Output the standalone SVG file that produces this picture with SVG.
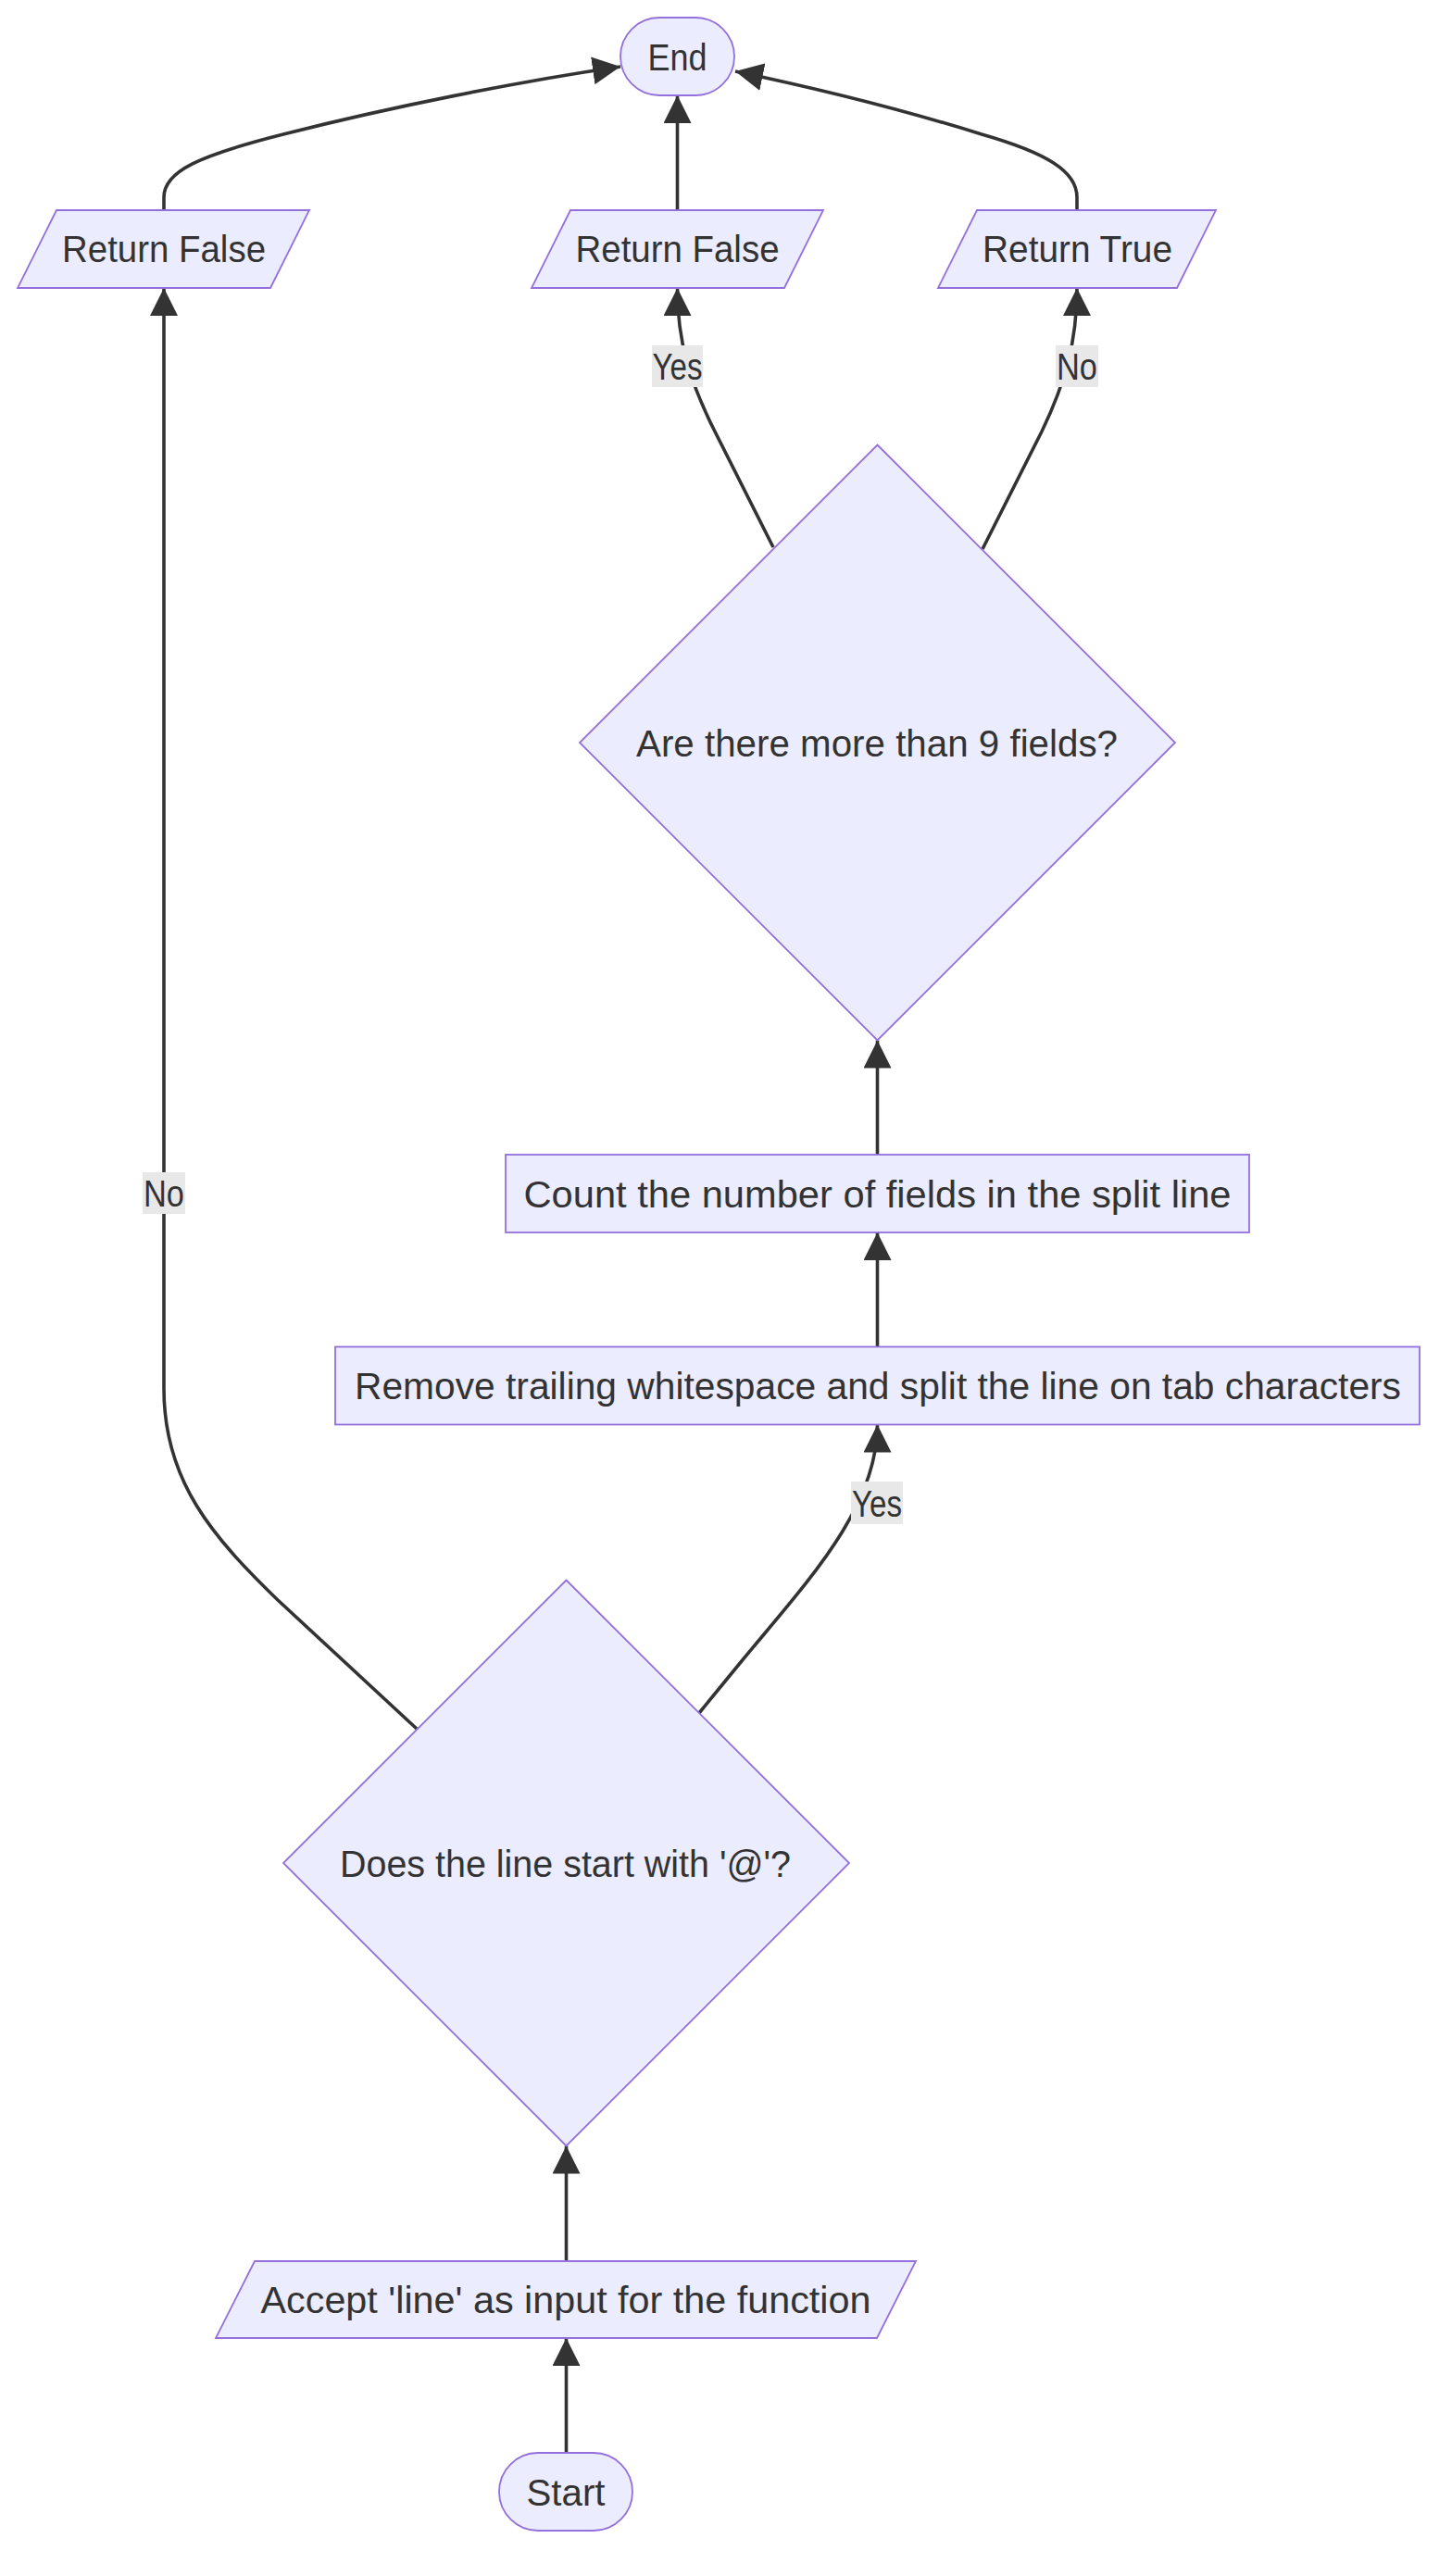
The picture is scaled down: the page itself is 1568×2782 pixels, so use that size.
<svg xmlns="http://www.w3.org/2000/svg" width="1568" height="2782" viewBox="0 0 1568 2782">
<style>
  .node { fill: #ECECFF; stroke: #9370DB; stroke-width: 1.8; }
  .lbl { font-family: "Liberation Sans", Arial, sans-serif; font-size: 40px; fill: #333333; text-anchor: middle; }
  .edge { fill: none; stroke: #333333; stroke-width: 3.6; }
  .elbg { fill: #e8e8e8; }
</style>
<defs>
  <marker id="arrow" viewBox="0 0 10 10" refX="10" refY="5" markerUnits="userSpaceOnUse" markerWidth="30" markerHeight="30" orient="auto">
    <path d="M0,0 L10,5 L0,10 z" fill="#333333"/>
  </marker>
</defs>
<rect width="1568" height="2782" fill="#ffffff"/>

<g id="connectors">
  <path class="edge" marker-end="url(#arrow)" d="M177,227 L177,213 C177,185 215,168 306,145 C420,116 560,88 670,72"/>
  <path class="edge" marker-end="url(#arrow)" d="M731.5,227 L731.5,103"/>
  <path class="edge" marker-end="url(#arrow)" d="M1163,227 L1163,213 C1163,185 1130,165 1060,145 C980,120 880,95 794,77"/>
  <path class="edge" marker-end="url(#arrow)" d="M835,591 L772,466 C745,412 731.5,370 731.5,311"/>
  <path class="edge" marker-end="url(#arrow)" d="M1061,593 L1125,466 C1150,414 1163,370 1163,311"/>
  <path class="edge" marker-end="url(#arrow)" d="M947.5,1247 L947.5,1123.5"/>
  <path class="edge" marker-end="url(#arrow)" d="M947.5,1454.5 L947.5,1331"/>
  <path class="edge" marker-end="url(#arrow)" d="M755,1850 L800,1795 C870,1710 947.5,1630 947.5,1538.5"/>
  <path class="edge" marker-end="url(#arrow)" d="M450,1867 L300,1728 C230,1660 177,1600 177,1500 L177,311"/>
  <path class="edge" marker-end="url(#arrow)" d="M611.5,2442 L611.5,2317.5"/>
  <path class="edge" marker-end="url(#arrow)" d="M611.5,2649 L611.5,2525"/>

  <g id="label-yes-top">
    <rect class="elbg" x="704" y="373" width="55" height="45"/>
    <text class="lbl" x="731.5" y="410" textLength="54" lengthAdjust="spacingAndGlyphs">Yes</text>
  </g>
  <g id="label-no-top">
    <rect class="elbg" x="1140" y="373" width="46" height="45"/>
    <text class="lbl" x="1163" y="410" textLength="44" lengthAdjust="spacingAndGlyphs">No</text>
  </g>
  <g id="label-no-left">
    <rect class="elbg" x="154" y="1266" width="46" height="45"/>
    <text class="lbl" x="177" y="1303" textLength="44" lengthAdjust="spacingAndGlyphs">No</text>
  </g>
  <g id="label-yes-mid">
    <rect class="elbg" x="919" y="1600" width="56" height="46"/>
    <text class="lbl" x="947" y="1637.5" textLength="54" lengthAdjust="spacingAndGlyphs">Yes</text>
  </g>
</g>

<g id="node-end">
  <rect class="node" x="670" y="19" width="123" height="84" rx="42" ry="42"/>
  <text class="lbl" x="731.5" y="75.5" textLength="64" lengthAdjust="spacingAndGlyphs">End</text>
</g>

<g id="node-return-false-1">
  <polygon class="node" points="19,311 292,311 334,227 61,227"/>
  <text class="lbl" x="177" y="283" textLength="220" lengthAdjust="spacingAndGlyphs">Return False</text>
</g>

<g id="node-return-false-2">
  <polygon class="node" points="574,311 847,311 889,227 616,227"/>
  <text class="lbl" x="731.5" y="283" textLength="220" lengthAdjust="spacingAndGlyphs">Return False</text>
</g>

<g id="node-return-true">
  <polygon class="node" points="1013,311 1271,311 1313,227 1055,227"/>
  <text class="lbl" x="1163.5" y="283" textLength="205" lengthAdjust="spacingAndGlyphs">Return True</text>
</g>

<g id="node-more-than-9">
  <polygon class="node" points="947.5,480.5 1269,802 947.5,1123.5 626,802"/>
  <text class="lbl" x="947" y="816.5" textLength="520" lengthAdjust="spacingAndGlyphs">Are there more than 9 fields?</text>
</g>

<g id="node-count">
  <rect class="node" x="546" y="1247" width="803" height="84"/>
  <text class="lbl" x="947.5" y="1303.5" textLength="764" lengthAdjust="spacingAndGlyphs">Count the number of fields in the split line</text>
</g>

<g id="node-remove">
  <rect class="node" x="362" y="1454.5" width="1171" height="84"/>
  <text class="lbl" x="948" y="1511" textLength="1130" lengthAdjust="spacingAndGlyphs">Remove trailing whitespace and split the line on tab characters</text>
</g>

<g id="node-starts-with-at">
  <polygon class="node" points="611.5,1706.5 917,2012 611.5,2317.5 306,2012"/>
  <text class="lbl" x="610.5" y="2026.5" textLength="487" lengthAdjust="spacingAndGlyphs">Does the line start with '@'?</text>
</g>

<g id="node-accept">
  <polygon class="node" points="233,2525 947,2525 989,2442 275,2442"/>
  <text class="lbl" x="611" y="2498" textLength="659" lengthAdjust="spacingAndGlyphs">Accept 'line' as input for the function</text>
</g>

<g id="node-start">
  <rect class="node" x="539" y="2649" width="144" height="84" rx="42" ry="42"/>
  <text class="lbl" x="611" y="2705.5" textLength="85" lengthAdjust="spacingAndGlyphs">Start</text>
</g>
</svg>
